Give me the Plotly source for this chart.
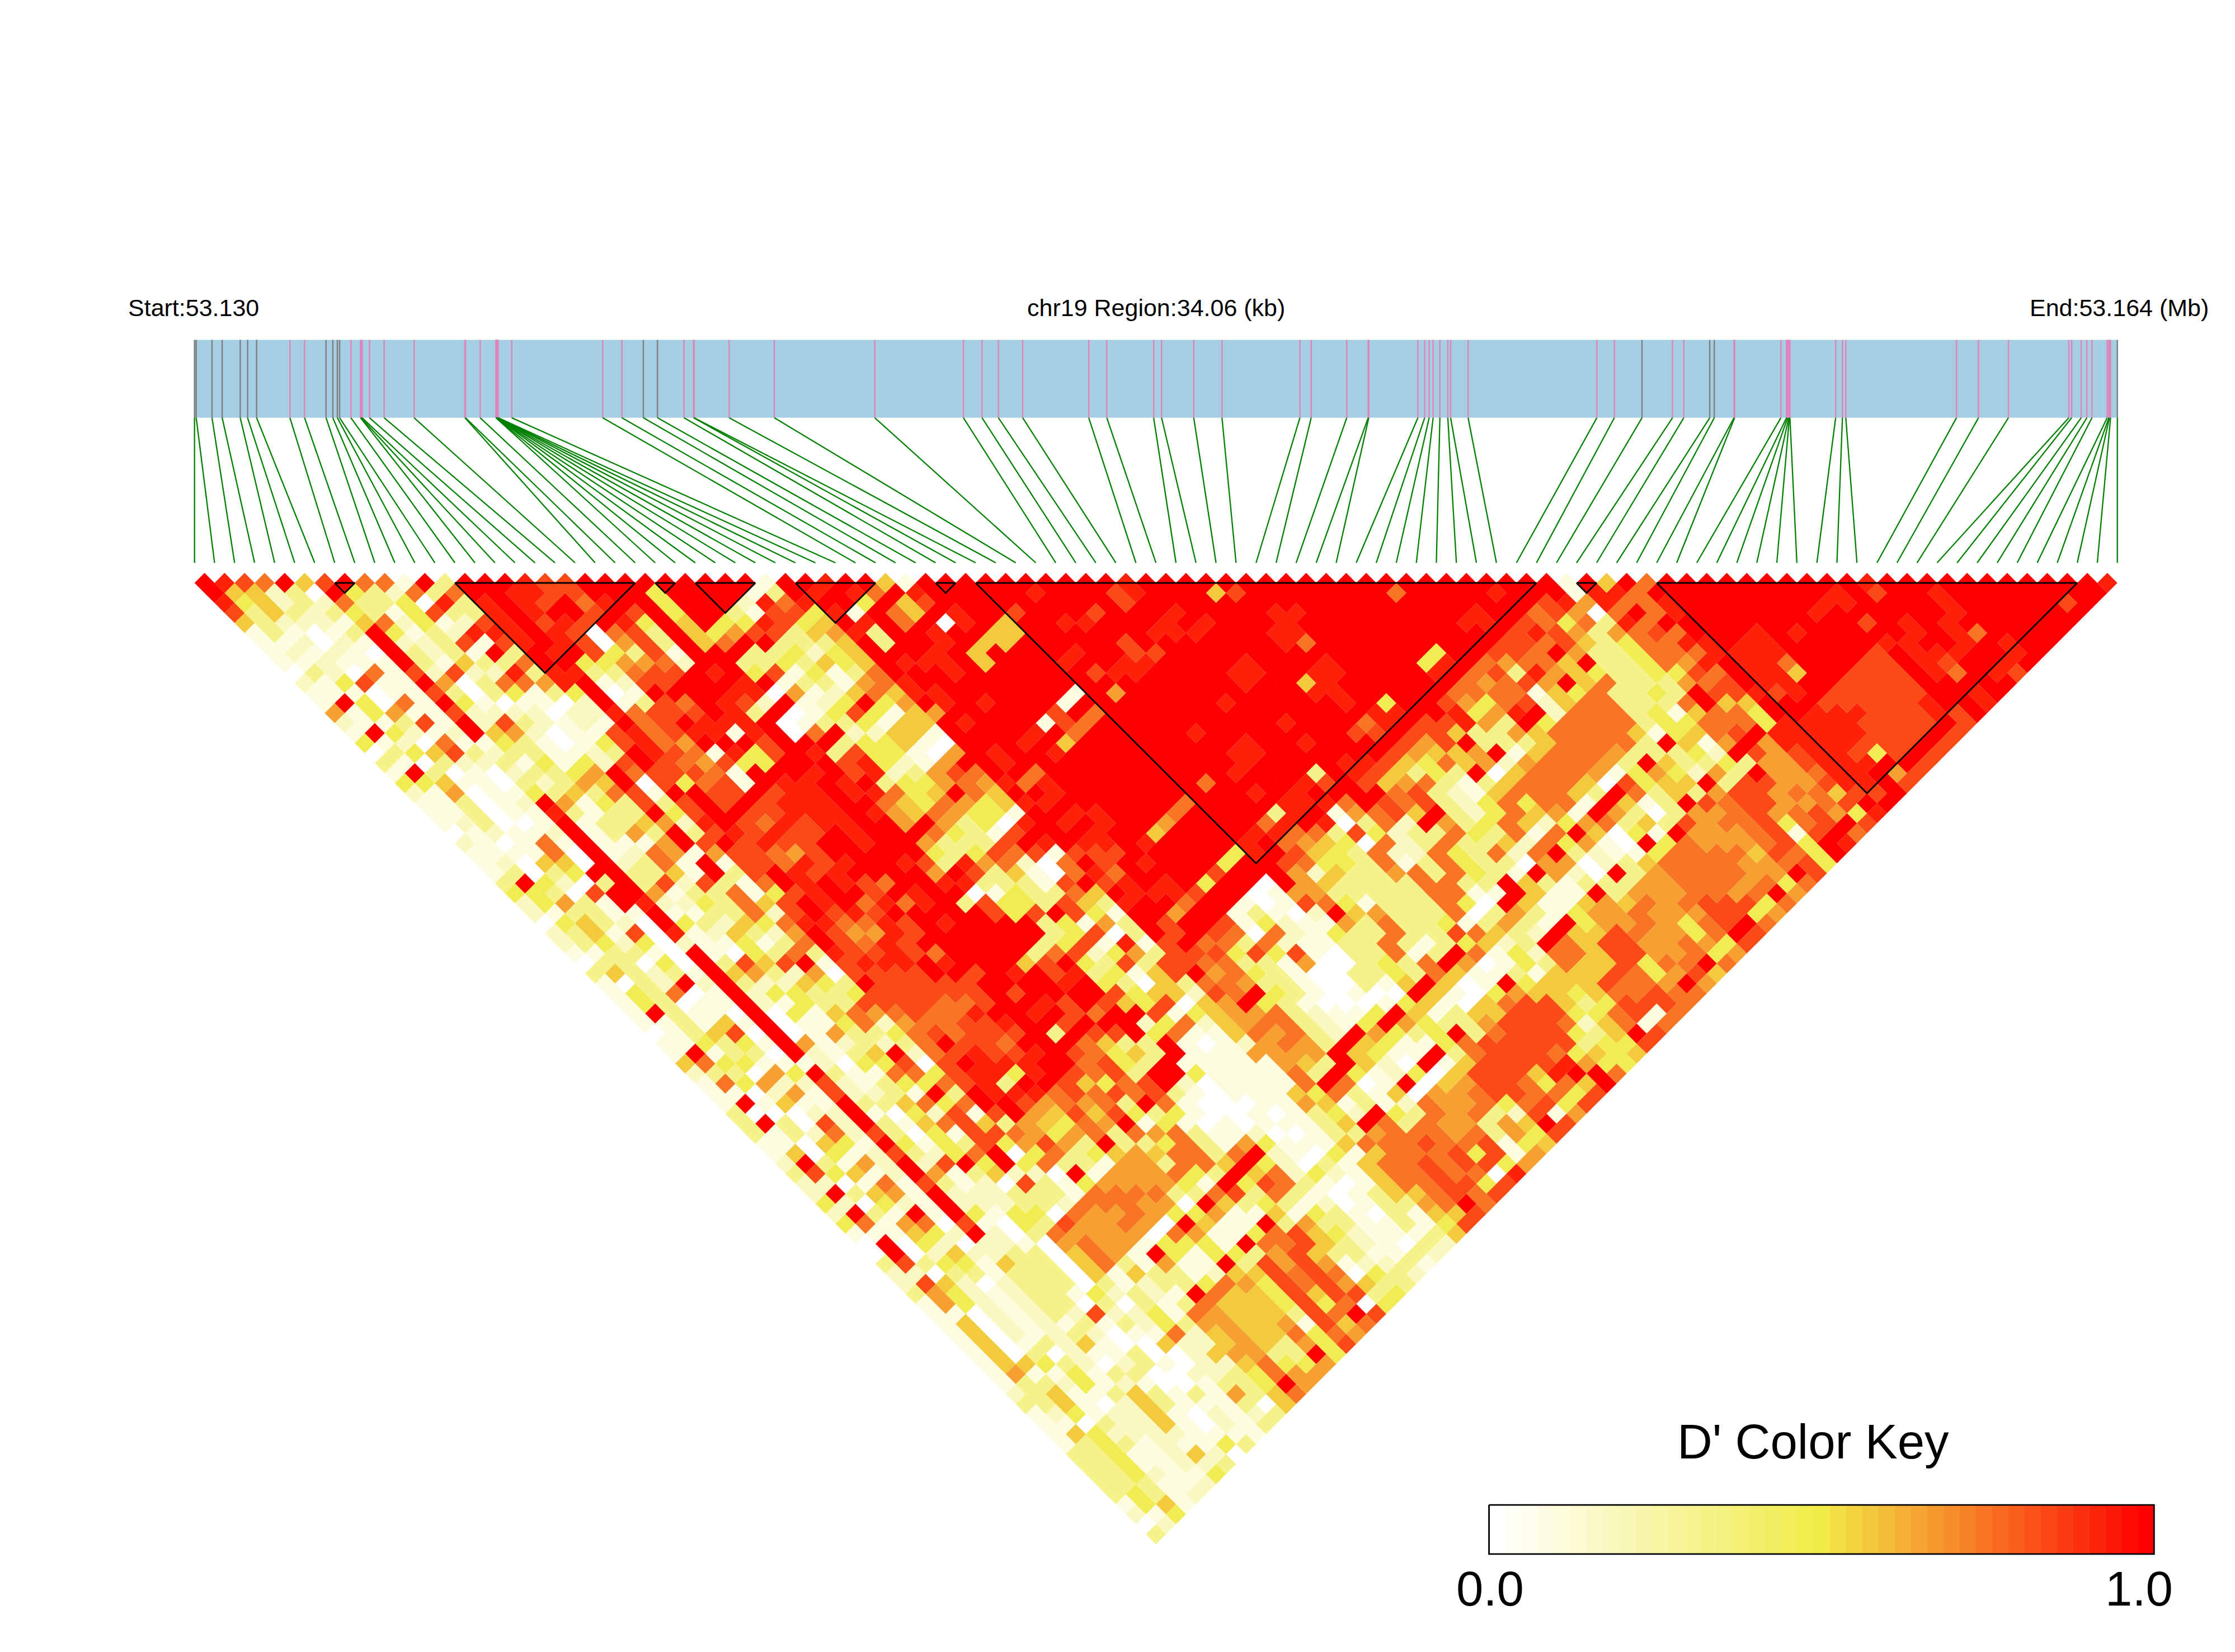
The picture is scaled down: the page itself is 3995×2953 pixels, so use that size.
import plotly.graph_objects as go

SNP_KB = [0, 0.03, 0.31, 0.49, 0.81, 0.94, 1.10, 1.69, 1.95, 2.33, 2.45, 2.53, 2.57, 2.77, 2.94, 2.95, 2.97,
          3.10, 3.36, 3.89, 4.79, 4.80, 5.06, 5.34, 5.34, 5.35, 5.35, 5.36, 5.36, 5.37, 5.37, 5.38, 5.62,
          7.23, 7.57, 7.95, 8.20, 8.67, 8.84, 8.85, 9.47, 10.27, 12.05, 13.62, 13.95, 14.24, 14.67, 15.84,
          16.16, 16.99, 17.13, 17.70, 18.20, 19.58, 19.78, 20.41, 20.79, 20.80, 21.67, 21.79, 21.87, 21.94,
          22.06, 22.20, 22.25, 22.56, 24.84, 25.15, 25.64, 26.18, 26.38, 26.84, 26.92, 27.27, 27.28, 28.10,
          28.20, 28.22, 28.24, 28.25, 28.26, 29.07, 29.19, 29.25, 31.21, 31.60, 32.13, 33.20, 33.25, 33.42,
          33.52, 33.61, 33.88, 33.91, 33.92, 33.94, 34.06]
GRAY_SNPS = [0, 1, 2, 3, 4, 5, 6, 9, 10, 11, 12, 35, 36, 68, 71, 72, 96]
REGION_KB = 34.06

# D' per horizontal row of the triangle (row 0 = adjacent SNP pairs); digit = shade level, x = 1.0
LD_ROWS = [
"x987x58x771x3xxx988xxxxx xxxx1xx9xx51xxxxxxxxxx9xx xxxxxxxxxxxxxxxxxxx1x5x7x xxxxxxxxx9xxxxxxxxxxx9",
"x55230x432737xx9988xxx4x xxx13x9x97x9xxxxx9xxx89xx x58xxxxxxx7xxxx9xxx1997xx xxxxxxx9x8xx9xxxxxxxx",
"94523273340939x98x79xx4 xxx2979xx4x58xxxxxxxxx8xx xxxxxxxxxxxxxxxxxx8969779 xxxxxxx99xxxx9xxxxx8x",
"83532343148339x9xx8x8x4 xx3188491x75x9xx8xxx8xxx9 xxxx99xxxxxxxx9xx78607x79 xxxxxx9xxxxxx9xxxxxx",
"53222157241289x898x94x 5x449845x9x7x09x5xx99xxx9 x9xxx9xxxxxxxx99x8747397x xxxxxxxxx8x9x9xxxxxx",
"131013x4132999x980783x 5468835693xx9xx55xxxxxx99 9xxx99xxxxxxxxxx898636787 xxx9x9xxxxx9x97xxxx",
"112021x2238189x980683 x57xx3335x3xx9x55xxxxx8xx xxxxx97xxxxxxxxx887853477 99x99xxxxx99xx9x9xx",
"121210x3231x3x9x84381 xxx334245xxx9x5xxxx9xx88x xxxxxxxxxxxx4xx887x633477 79999xxxx8x999xx9x",
"112111x315337xx44667 2xx3343545x999x5xxx9xx99x xxx9xxx9xxxx49x76775x3347 69x997xxx88x98xx9x",
"03207182822939933788 x9x4814137xxx9xxxxxx899xx xx99xx99xxxx9x78396543344 87x995xx888x97x98",
"214811x6037769x1288 xxx9x1331679xxxxxxxxxxxxx xxx9xx59xxxxxx76786x57333 678x99xx8888xxxxx",
"11101183034134x01xx xx99061257599xxxxxx1x6xxx xxxxxx99xxxxx777715473343 x88989x88888xx9x",
"1x4071x4101102x138 7x982x124x46x9x9xxx1xxxxx xx9xxxxx9x4xx864782577333 7x55xxx888889xx9",
"614611822220229788 8x93x01484156xxxxx8x7xxxx xxxxxxxxx99xx9469x2777341 5774xx99988898x",
"211381x2832121x78 x999x01334155x9xxx187xxxx xxxxx9xxx79x88963x4777734 4777499998888x8",
"1x4212x5620118978 9919x07x22551xxxx9x7xxxxx 9xxxxxxx88x88533657777514 578x99999888x8",
"4120711431014897 6xxx8xxx344510xxx9x5xxxxx xxx9xx9xxxx868x333577773x 516x69999888x8",
"0345832331123x98 71948x93844106x9xx9xxxxxx xx99xxxxxx86556x157776333 42x86899848x8",
"3103223141428x8 76844xxx894216xx9xxxxxxxx xxx9xxxx998547562677763x5 3343668999xx8",
"1x301023346x788 871xxx9x8923687xx7xxxxxxx xx9xxx3x985343x0577761464 263x66799x68",
"44511032365x08 4781x99x9x344676979xxxxxx x7xxxx98x8567313577750845 5x38866899x8",
"2160114353781x x88x899x99745x75xx9xxxxxx xxx9x9xxxx78321577753x735 3688677588x",
"113012x614383 8x8x8999xx754764599xxxxxx 7xxxx9997x87832474771x513 x87886678xx",
"11301193133x4 8xx88999x96576441xx99xxx7 xxxx39x16785x3247561x6303 6678678649",
"123001x13356 29x879899xx6x63409x9x9xx6 xxxx79x90372x634752467353 86778478x8",
"012112x1363x 3898988x9xxx74318xxx9xx5x xxx9977384233743717x5041x 6667818x7",
"210171x1116 x8x8988xx9xx63338x9x99x9x xxx9x765407237335274610x4 7666784x9",
"111170x1276 1688768xxxxx4348781888xxx xx49x8543722743727x321147 7775874x",
"120550x237 1x1887989xx983967207x8x9x xx4xx87443713743306602357 77766784",
"13034xx335 1x38x989xxxx6x83510797xxx x8xxx625336737431x620x367 77766x8",
"3x4203x38 28317x9x987xx9933318x89x9 x4xx0x6533337733x53133366 7776747",
"44308xx61 3371489xx8x9xx0143375x999 8xx0166333337711x511x3666 7767x6",
"24631x92 243758x9x7979x384438539xx 7xx1018741333740x51156576 788847",
"213311x1 133728x898xxxxx848x841xx6 xx13102x56333703631466766 68846",
"045320x 432547997798x9xxxx34163x8 xx81421163733413631x46676 478x7",
"2351809 125326x86698xxxxxx34803x8 x87072143373387532x558766 47x8",
"234240 2114137x8798xxxxxx3481918 x77372113373134523x758866 7648",
"113310 x104373988987xxxx37824638 8848481033713x71427758866 746",
"03304 0x3858x18999x9xxx58x43838 8773316003437x60143755847 7x7",
"35323 1x5632608888xx8x9x8934158 x67431003343751131 5558746 85",
"1032 x2x322543x88888xxxx9x4305 377633100315x501x45558776 x6",
"1437 01x244334888888x8xxxx8455 287x4310100x5104655457787 7",
"143 011x214338888778xx98x8548 056x431000145105788534888 7",
"1x3 110x04157678779xx9x87xx81 4566732114x51355888447817",
"11 3151x011472677889xx8xxx24 7256773214x64336888725717",
"01 3580x016334787888x3x88x47 11576732x6434x37888435x8",
"1 14341x6123237x887xxx7533x 10126763x541147888883448",
"1 x1330x2135x2789889x87453x 1116666x5411x3788874545",
"57441112044808x999xx7843x 11111653x520x1588889644",
"233064x31177489949x8783x x4111173x41240588859xx7",
"1746228213447893xx85478x 2011117x701x056887475x",
"11026182231x3x999787878 3101115473150667887748",
"1x1511x335747xx867673x7 1000116513127667478 48",
"300022x1042818x6585843 4100101342x4376732816",
"3x3082x31578536547 6x14 101011135x73766365x8",
"313272830418876467376 73112001336777673648",
"110541x4143846863x334 7316411157778778145",
"15041283247x04734565 7737x21041577784816",
"2x3162x28x4x47331663 775x42031577878846",
"384512x6135220x1666 743x57242157787709",
"2201718312083146666 41x48731015778848",
"2x3561x22233317777 33783731013557878",
"420421x22233277766 0x534312013367x7",
"2x31x1x4144076676 4461151431031558",
"47167081043866760 x511x3633113148",
"111542x203766660 761147854211135",
"0x04202210676614 441x7785321032",
"0x025 22330 5761x 41443685331132",
"383441533057316 11x3868612231",
"22033133305153 3125587870432",
"28520233303123 347648786533",
"3642123314232 1x7554858834",
"1642123303031 37555484704",
"110212328224 176555387x8",
"150212131324 3665561857",
"15021232011 7256557476",
"15013251005 225653648",
"1503021130 0256633x4",
"1554320231 02257446",
"161141330 02234766",
"133241210 01334x6",
"23511353 1316357",
"33510253 111305",
"1241225 102123",
"1103225 10213",
"154222 21111",
"134312 1143",
"33411 2520",
"33411 223",
"3342 114",
"3331 12",
"343 12",
"145 1",
"214",
"02",
"3",
]

SHADE_LEVELS = {"0": 0.0, "1": 0.08, "2": 0.17, "3": 0.32, "4": 0.47, "5": 0.57, "6": 0.66,
                "7": 0.75, "8": 0.84, "9": 0.93, "x": 1.0}
# haplotype blocks: left and right half-cell columns along the top row
BLOCKS = [(13, 15), (25, 43), (45, 47), (49, 55), (59, 67), (73, 75), (77, 133), (137, 139), (145, 187)]

WHITE, YELLOW, RED = (255, 255, 255), (240, 235, 70), (255, 0, 0)
def colour(v):
    a, b, t = (WHITE, YELLOW, v / 0.5) if v < 0.5 else (YELLOW, RED, (v - 0.5) / 0.5)
    return "rgb(%d,%d,%d)" % tuple(round(a[i] + (b[i] - a[i]) * t) for i in range(3))

N = len(SNP_KB)
STEP = REGION_KB / (2 * (N - 1))      # half a cell, in kb
cx = lambda c: (c + 1) * STEP

polys = {k: ([], []) for k in SHADE_LEVELS}
for r, text in enumerate(LD_ROWS):
    text = text.replace(" ", "")
    n = N - 1 - r
    if len(text) != n:
        print("row", r, "has", len(text), "cells, expected", n)
    text = text[:n].ljust(n, "0")
    for k, ch in enumerate(text):
        c = r + 2 * k
        xs, ys = polys[ch]
        xs += [cx(c - 1), cx(c), cx(c + 1), cx(c), cx(c - 1), None]
        ys += [r, r - 1, r, r + 1, r, None]

fig = go.Figure()
for ch, (xs, ys) in polys.items():
    if ch == "0":
        continue
    fig.add_trace(go.Scatter(x=xs, y=ys, mode="lines", fill="toself", fillcolor=colour(SHADE_LEVELS[ch]),
                             line=dict(width=0), hoverinfo="skip", showlegend=False))

BAR_TOP, BAR_BOTTOM, FAN_END = -24.27, -16.49, -2.01
def line_trace(xs, ys, color, width):
    fig.add_trace(go.Scatter(x=xs, y=ys, mode="lines", line=dict(color=color, width=width),
                             hoverinfo="skip", showlegend=False))

# chromosome bar
fig.add_trace(go.Scatter(x=[0, REGION_KB, REGION_KB, 0, 0], y=[BAR_TOP, BAR_TOP, BAR_BOTTOM, BAR_BOTTOM, BAR_TOP],
                         mode="lines", fill="toself", fillcolor="#A6CEE3", line=dict(width=0),
                         hoverinfo="skip", showlegend=False))
for group, color in ((True, "#808080"), (False, "#DF85BB")):
    xs, ys = [], []
    for i, p in enumerate(SNP_KB):
        if (i in GRAY_SNPS) == group:
            xs += [p, p, None]
            ys += [BAR_TOP, BAR_BOTTOM, None]
    line_trace(xs, ys, color, 2.5)
xs, ys = [], []
for i, p in enumerate(SNP_KB):
    xs += [p, i * REGION_KB / (N - 1), None]
    ys += [BAR_BOTTOM, FAN_END, None]
line_trace(xs, ys, "#008000", 2.3)

xs, ys = [], []
for a, b in BLOCKS:
    xs += [cx(a), cx(b), cx((a + b) / 2), cx(a), None]
    ys += [0, 0, (b - a) / 2, 0, None]
line_trace(xs, ys, "black", 2.8)

# colour key
KEY_X0, KEY_X1, KEY_Y0, KEY_Y1 = 22.93, 34.71, 92.07, 96.98
KEY_BANDS = [i / 40 for i in range(41)]
dx = (KEY_X1 - KEY_X0) / len(KEY_BANDS)
fig.add_trace(go.Heatmap(z=[KEY_BANDS], x0=KEY_X0 + dx / 2, dx=dx, y0=(KEY_Y0 + KEY_Y1) / 2, dy=KEY_Y1 - KEY_Y0,
                         colorscale=[[0, colour(0)], [0.5, colour(0.4999)], [1, colour(1)]], zmin=0, zmax=1,
                         showscale=False, hoverinfo="skip"))
line_trace([KEY_X0, KEY_X1, KEY_X1, KEY_X0, KEY_X0], [KEY_Y0, KEY_Y0, KEY_Y1, KEY_Y1, KEY_Y0], "black", 2.8)

FONT = "Liberation Sans, Arial, sans-serif"
def label(x, y, text, size, anchor="center"):
    fig.add_annotation(x=x, y=y, text=text, showarrow=False, xanchor=anchor, yanchor="middle",
                       font=dict(family=FONT, size=size, color="black"))
label(-1.2, -27.47, "Start:53.130", 43, "left")
label(17.03, -27.47, "chr19 Region:34.06 (kb)", 43)
label(35.7, -27.47, "End:53.164 (Mb)", 43, "right")
label(28.67, 85.7, "D' Color Key", 87)
label(22.95, 100.4, "0.0", 87)
label(34.44, 100.4, "1.0", 87)

# the page adds an 8 px body margin, so the axes are set to land where the reference has them
W, H, PAGE = 3995, 2953, 8
PX = 34.06 / 3437
fig.update_layout(width=W, height=H, margin=dict(l=0, r=0, t=0, b=0), paper_bgcolor="white", plot_bgcolor="white",
                  showlegend=False,
                  xaxis=dict(range=[(PAGE - 347.7) * PX, (W + PAGE - 347.7) * PX], visible=False, fixedrange=True),
                  yaxis=dict(range=[(H + PAGE - 1042) / 17.9, (PAGE - 1042) / 17.9], visible=False, fixedrange=True))
fig.write_html("out.html")
